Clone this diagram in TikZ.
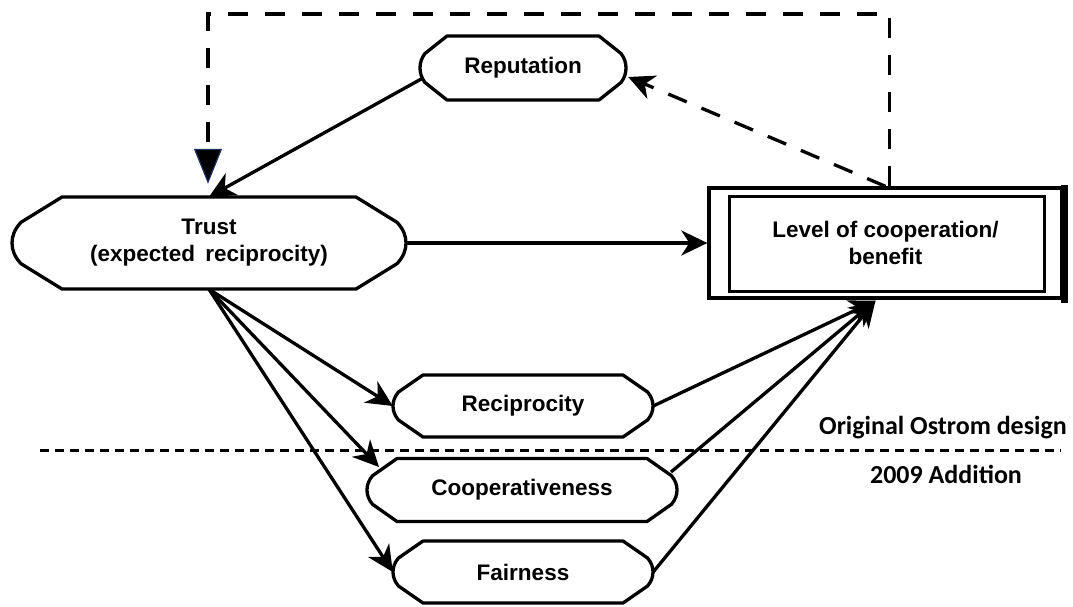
\documentclass[tikz,border=0pt]{standalone}
\usepackage{fontspec}
\setmainfont{Liberation Sans}
\newfontfamily\labelfont{Carlito}
\usetikzlibrary{arrows.meta,calc}
\definecolor{tipblue}{RGB}{30,50,100}
\newcommand\capsuleoutline[4]{%
 \draw[outline] ($(#1.center)+({-#2+#4},{-#3})$) -- ($(#1.center)+({#2-#4},{-#3})$)
   -- ($(#1.center)+({#2-0.18*#4},{-0.45*#3})$)
   .. controls ($(#1.center)+({#2-0.05*#4},{-0.3*#3})$) and ($(#1.center)+({#2},{-0.15*#3})$) .. ($(#1.center)+({#2},0)$)
   .. controls ($(#1.center)+({#2},{0.15*#3})$) and ($(#1.center)+({#2-0.05*#4},{0.3*#3})$) .. ($(#1.center)+({#2-0.18*#4},{0.45*#3})$)
   -- ($(#1.center)+({#2-#4},{#3})$) -- ($(#1.center)+({-#2+#4},{#3})$)
   -- ($(#1.center)+({-#2+0.18*#4},{0.45*#3})$)
   .. controls ($(#1.center)+({-#2+0.05*#4},{0.3*#3})$) and ($(#1.center)+({-#2},{0.15*#3})$) .. ($(#1.center)+({-#2},0)$)
   .. controls ($(#1.center)+({-#2},{-0.15*#3})$) and ($(#1.center)+({-#2+0.05*#4},{-0.3*#3})$) .. ($(#1.center)+({-#2+0.18*#4},{-0.45*#3})$)
   -- cycle;}
\begin{document}
\begin{tikzpicture}[x=1pt,y=-1pt,
  outline/.style={line width=3.3pt, line join=round},
  txt/.style={font=\bfseries\fontsize{22.5}{27}\selectfont, align=center, inner sep=0pt},
  conn/.style={line width=3.3pt, -{Stealth[length=26pt,width=25pt,inset=8pt]}},
  dashconn/.style={line width=3.3pt, dash pattern=on 20pt off 16pt, -{Stealth[length=26pt,width=25pt,inset=8pt]}},
  dashline/.style={line width=3.3pt, dash pattern=on 20pt off 17pt},
  sepline/.style={line width=3pt, dash pattern=on 9pt off 6pt},
  lbl/.style={font=\labelfont\bfseries\fontsize{26}{30}\selectfont, inner sep=0pt}]
\useasboundingbox (0,0) rectangle (1073,606);

% nodes
\node[txt, minimum width=206pt, minimum height=64pt] (rep) at (523,68) {Reputation};
\node[txt, minimum width=394pt, minimum height=92pt] (trust) at (209,243) {Trust\\(expected\hspace{0.45em}reciprocity)};
\node[txt, minimum width=353pt, minimum height=110pt, draw, line width=3.3pt] (level) at (885.5,243) {Level of cooperation/\\benefit};
\node[txt, minimum width=260pt, minimum height=62pt] (recip) at (523,406) {Reciprocity};
\node[txt, minimum width=310pt, minimum height=63pt] (coop) at (522,490) {Cooperativeness};
\node[txt, minimum width=260pt, minimum height=62pt] (fair) at (523,572) {Fairness};

\capsuleoutline{rep}{103}{32}{27}
\capsuleoutline{trust}{197}{46}{50}
\capsuleoutline{recip}{130}{31}{30}
\capsuleoutline{coop}{155}{31.5}{30}
\capsuleoutline{fair}{130}{31}{30}

% level box details
\draw[line width=3.3pt] ($(level.north west)+(22,10)$) rectangle ($(level.south east)+(-19,-8)$);
\fill ($(level.north east)+(-3,-1.5)$) rectangle ($(level.south east)+(4,3)$);

% separator and labels
\coordinate (sepL) at (40,450);
\coordinate (sepR) at (1061,450);
\draw[sepline] (sepL) -- (sepR);
\node[lbl] (orig) at (943,428) {Original Ostrom design};
\node[lbl] (addn) at (946,474) {2009 Addition};

% connectors
\draw[conn] (trust.east) -- (level.west);
\draw[conn] ($(rep.center)+(-100,10)$) -- (trust.north);
\draw[conn] (trust.south) -- (recip.west);
\draw[conn] (trust.south) -- ($(coop.center)+(-143,-23)$);
\draw[conn] (trust.south) -- (fair.west);
\coordinate (lvtip) at ($(level.south)+(-10,1)$);
\draw[conn] (recip.east) -- (lvtip);
\draw[conn] ($(coop.center)+(149,-18)$) -- (lvtip);
\draw[conn] (fair.east) -- (lvtip);
\draw[dashconn] (level.north) -- ($(rep.east)+(2,9)$);
\coordinate (fbtop) at (208,14);
\coordinate (fbtip) at ($(trust.north)+(-1,-13)$);
\draw[dashline, -{Triangle[length=35pt,width=28pt,line width=1.2pt,color=tipblue,fill=black]}]
  ($(level.north)+(4,0)$) |- (fbtop) -- (fbtip);
\end{tikzpicture}
\end{document}
